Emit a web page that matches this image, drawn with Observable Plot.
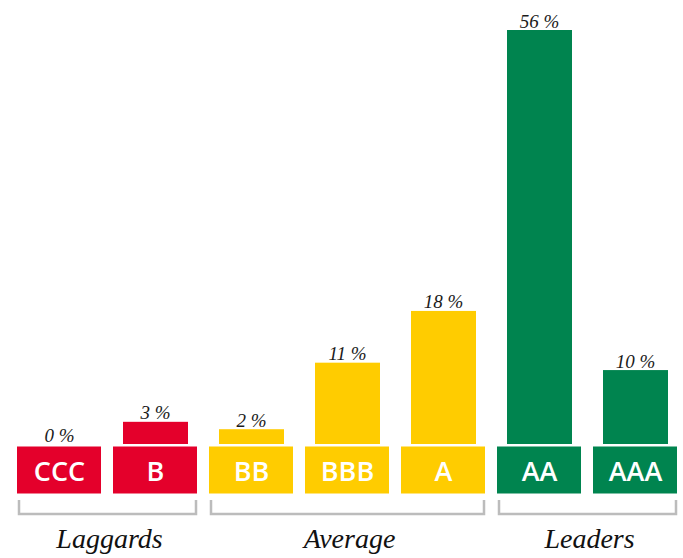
<!DOCTYPE html>
<html>
<head>
<meta charset="utf-8">
<script src="https://cdn.jsdelivr.net/npm/d3@7"></script>
<script src="https://cdn.jsdelivr.net/npm/@observablehq/plot@0.6"></script>
<style>
  html, body { margin: 0; padding: 0; background: #fff; }
</style>
</head>
<body>
<div id="chart"></div>
<script>
const categories = ["CCC", "B", "BB", "BBB", "A", "AA", "AAA"];
const values = [0, 3, 2, 11, 18, 56, 10];
const groupOf = ["Laggards", "Laggards", "Average", "Average", "Average", "Leaders", "Leaders"];
const groupNames = ["Laggards", "Average", "Leaders"];
const groupColors = ["#E4002B", "#FFCC00", "#00844F"];

const data = categories.map((c, i) => ({cat: c, value: values[i], group: groupOf[i]}));

const serif = "'Liberation Serif', 'DejaVu Serif', serif";

function brackets(index, scales, vals, dimensions) {
  const x = scales.x;
  const bw = x.bandwidth ? x.bandwidth() : 84;
  const g = d3.create("svg:g");
  const yTop = dimensions.height - dimensions.marginBottom + 56;
  const yBot = dimensions.height - dimensions.marginBottom + 70;
  for (const name of groupNames) {
    const cats = categories.filter((c, i) => groupOf[i] === name);
    const x0 = x(cats[0]) + 2;
    const x1 = x(cats[cats.length - 1]) + bw - 1;
    g.append("path")
      .attr("d", `M${x0},${yTop}V${yBot}H${x1}V${yTop}`)
      .attr("fill", "none")
      .attr("stroke", "#bcbcbc")
      .attr("stroke-width", 2.5);
    g.append("text")
      .attr("x", (x0 + x1) / 2 + 2)
      .attr("y", dimensions.height - 10)
      .attr("text-anchor", "middle")
      .attr("font-family", serif)
      .attr("font-style", "italic")
      .attr("font-size", 28)
      .attr("fill", "#111")
      .text(name);
  }
  return g.node();
}

const chart = Plot.plot({
  width: 683,
  height: 558,
  marginLeft: 17,
  marginRight: 6,
  marginTop: 30,
  marginBottom: 114,
  x: {domain: categories, paddingInner: 0.125, paddingOuter: 0, round: false, axis: null},
  y: {domain: [0, 56], axis: null},
  color: {domain: groupNames, range: groupColors},
  marks: [
    Plot.barY(data, {x: "cat", y: "value", fill: "group", insetLeft: 10, insetRight: 9}),
    Plot.tickY(data, {x: "cat", y: 0, stroke: "group", strokeWidth: 47, dy: 25.5}),
    Plot.text(data, {x: "cat", y: 0, text: "cat", fill: "white", fontSize: 27, fontWeight: 600,
      fontFamily: "'Open Sans', sans-serif", dy: 28}),
    Plot.text(data, {x: "cat", y: "value", text: d => d.value + " %", lineAnchor: "bottom", dy: -3,
      fontFamily: serif, fontStyle: "italic", fontSize: 19, fill: "#1a1a1a"}),
    brackets
  ]
});
document.getElementById("chart").appendChild(chart);
</script>
</body>
</html>
